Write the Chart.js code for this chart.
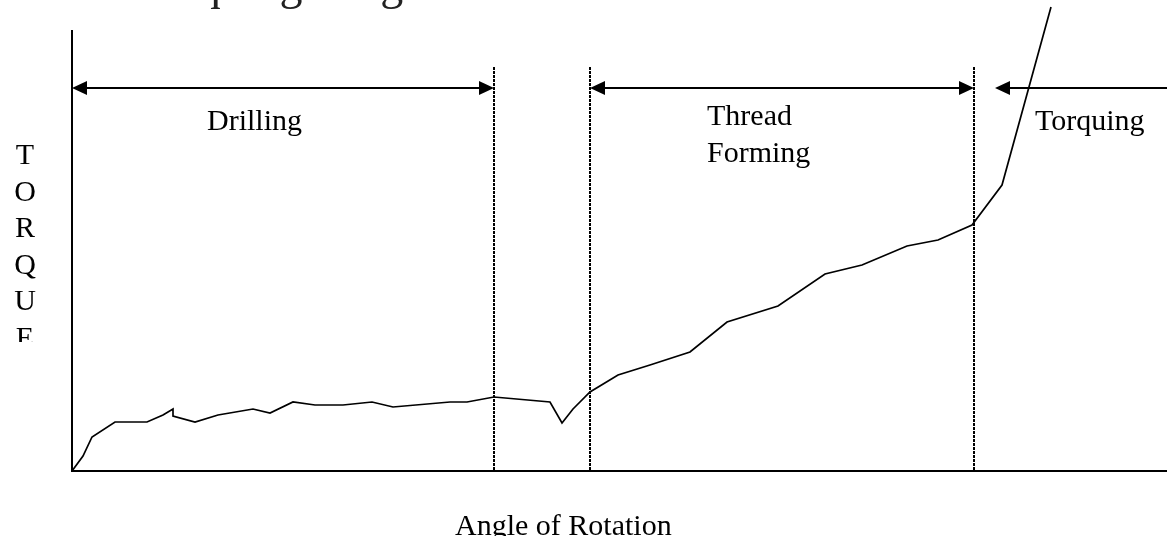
<!DOCTYPE html>
<html>
<head>
<meta charset="utf-8">
<title>Screw Torquing Diagram</title>
<script src="https://cdn.jsdelivr.net/npm/chart.js@4.4.1/dist/chart.umd.min.js"></script>
<style>
  html, body { margin: 0; padding: 0; background: #fff; }
  canvas { display: block; }
</style>
</head>
<body>
<canvas id="chart" width="1167" height="536"></canvas>
<script>
// Torque curve (angle and torque in plot units)
const angle  = [0, 11, 20, 43, 75, 91, 101, 101, 123, 146, 181, 198, 221, 243, 271, 300, 321,
                378, 395, 422, 478, 490, 501, 518, 546, 578, 618, 655, 706, 753, 790, 835,
                866, 900, 930, 979];
const torque = [0, 15, 34, 49, 49, 56, 62, 55, 49, 56, 62, 58, 69, 66, 66, 69, 64,
                69, 69, 74, 69, 48, 62, 79, 96, 106, 119, 149, 165, 197, 206, 225,
                231, 246, 286, 464];

// Phase boundaries and the spans their arrows cover
const phaseBounds = [422, 518, 902];
const phaseNames = ['Drilling', 'Thread Forming', 'Torquing'];
const phaseSpans = [[0, 422], [518, 902], [923, 1095]];

const xMax = 1095;
const yMax = 471;
const axisTop = 441;     // y-axis stops short of the top
const boundTop = 404;    // dotted phase lines
const arrowLevel = 383;  // span arrows

const SERIF = '"Liberation Serif", "Times New Roman", Times, serif';

function arrowHead(ctx, x, y, dir) {
  // dir = -1 points left, +1 points right
  ctx.beginPath();
  ctx.moveTo(x, y);
  ctx.lineTo(x - dir * 15, y - 7);
  ctx.lineTo(x - dir * 15, y + 7);
  ctx.closePath();
  ctx.fill();
}

const diagramPlugin = {
  id: 'diagram',
  beforeDatasetsDraw(chart) {
    const ctx = chart.ctx;
    const xs = chart.scales.x, ys = chart.scales.y;
    const x0 = xs.getPixelForValue(0), y0 = ys.getPixelForValue(0);
    ctx.save();
    ctx.strokeStyle = '#000';
    ctx.lineWidth = 2;
    ctx.beginPath();
    ctx.moveTo(x0, ys.getPixelForValue(axisTop));
    ctx.lineTo(x0, y0);
    ctx.lineTo(xs.getPixelForValue(xMax), y0);
    ctx.stroke();

    // dotted phase boundaries
    ctx.lineWidth = 2;
    ctx.setLineDash([3, 1]);
    phaseBounds.forEach(b => {
      const px = Math.round(xs.getPixelForValue(b));
      ctx.beginPath();
      ctx.moveTo(px, ys.getPixelForValue(boundTop));
      ctx.lineTo(px, y0);
      ctx.stroke();
    });
    ctx.restore();
  },
  afterDatasetsDraw(chart) {
    const ctx = chart.ctx;
    const xs = chart.scales.x, ys = chart.scales.y;
    const ay = ys.getPixelForValue(arrowLevel);
    ctx.save();
    ctx.strokeStyle = '#000';
    ctx.fillStyle = '#000';
    ctx.lineWidth = 2;

    // span arrows
    phaseSpans.forEach((s, i) => {
      const a = xs.getPixelForValue(s[0]), b = xs.getPixelForValue(s[1]);
      ctx.beginPath();
      ctx.moveTo(a + 4, ay);
      ctx.lineTo(i === 2 ? b : b - 4, ay);
      ctx.stroke();
      arrowHead(ctx, a, ay, -1);
      if (i < 2) arrowHead(ctx, b, ay, 1);
    });

    // phase labels
    ctx.font = '30px ' + SERIF;
    ctx.textBaseline = 'alphabetic';
    ctx.textAlign = 'left';
    ctx.fillText(phaseNames[0], 207, 130);
    ctx.fillText('Thread', 707, 125);
    ctx.fillText('Forming', 707, 162);
    ctx.fillText(phaseNames[2], 1035, 130);

    // vertical axis title, one letter per line, cut off by its box
    ctx.save();
    ctx.beginPath();
    ctx.rect(0, 130, 60, 212);
    ctx.clip();
    ctx.textAlign = 'center';
    'TORQUE'.split('').forEach((ch, i) => {
      ctx.fillText(ch, 25, 164 + i * 36.6);
    });
    ctx.restore();

    // horizontal axis title
    ctx.save();
    ctx.beginPath();
    ctx.rect(440, 490, 244, 46);
    ctx.clip();
    ctx.textAlign = 'left';
    ctx.fillText('Angle of Rotation', 455, 535);
    ctx.restore();

    // caption above, mostly off the page
    ctx.font = '46px ' + SERIF;
    ctx.fillStyle = '#222';
    ctx.textAlign = 'left';
    ctx.fillText('Screw Torquing Diagram', 8, -1);
    ctx.restore();
  }
};

const points = angle.map((a, i) => ({ x: a, y: torque[i] }));

new Chart(document.getElementById('chart').getContext('2d'), {
  type: 'line',
  data: {
    datasets: [{
      data: points,
      borderColor: '#000',
      borderWidth: 1.7,
      pointRadius: 0,
      tension: 0,
      fill: false,
      clip: false
    }]
  },
  options: {
    responsive: false,
    animation: false,
    devicePixelRatio: 1,
    layout: { padding: { left: 72, right: 0, top: 0, bottom: 65 } },
    scales: {
      x: { type: 'linear', min: 0, max: xMax, display: false },
      y: { type: 'linear', min: 0, max: yMax, display: false }
    },
    plugins: {
      legend: { display: false },
      tooltip: { enabled: false }
    }
  },
  plugins: [diagramPlugin]
});
</script>
</body>
</html>
